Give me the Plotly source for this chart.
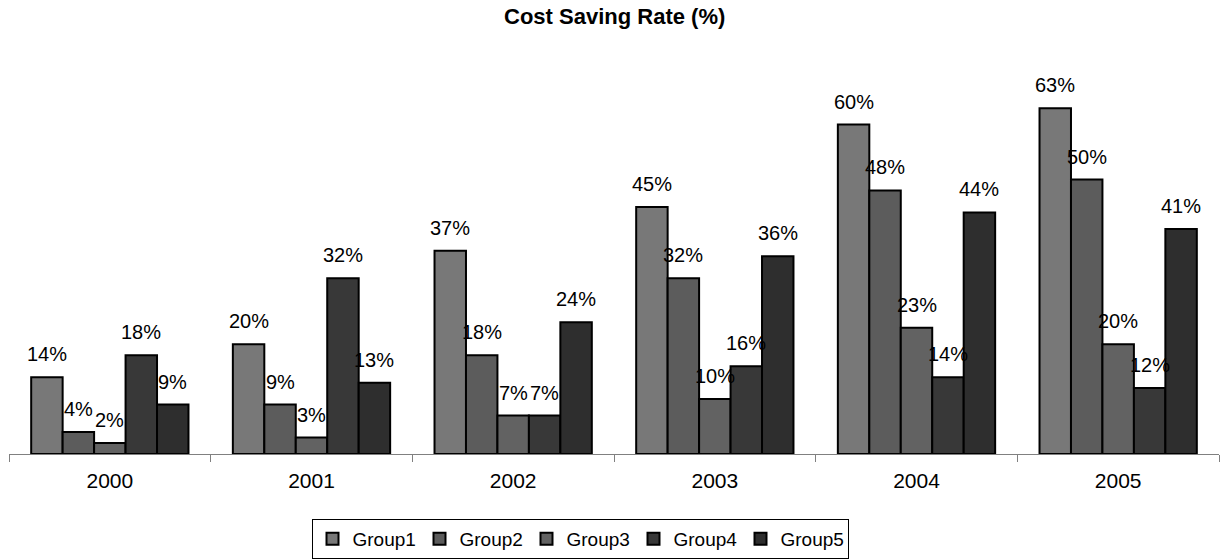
import plotly.graph_objects as go

# Cost saving rate per year for each group (percent)
years = ["2000", "2001", "2002", "2003", "2004", "2005"]
group_names = ["Group1", "Group2", "Group3", "Group4", "Group5"]
group1 = [14, 20, 37, 45, 60, 63]
group2 = [4, 9, 18, 32, 48, 50]
group3 = [2, 3, 7, 10, 23, 20]
group4 = [18, 32, 7, 16, 14, 12]
group5 = [9, 13, 24, 36, 44, 41]
series = [group1, group2, group3, group4, group5]

colors = ["#787878", "#5c5c5c", "#626262", "#383838", "#2e2e2e"]

FONT = "Liberation Sans, Arial, sans-serif"
BARGAP = 0.22
n_groups = len(series)
bar_w = (1 - BARGAP) / n_groups

fig = go.Figure()
annotations = []
for k, (name, vals, col) in enumerate(zip(group_names, series, colors)):
    fig.add_trace(go.Bar(
        name=name,
        x=years,
        y=vals,
        marker=dict(color=col, line=dict(color="#000000", width=2)),
        hoverinfo="x+y+name",
    ))
    # value labels sit a little above each bar
    offset = (k - (n_groups - 1) / 2) * bar_w
    for i, v in enumerate(vals):
        annotations.append(dict(
            x=i + offset, y=v, xref="x", yref="y",
            text=f"{v}%", showarrow=False,
            xanchor="center", yanchor="bottom", yshift=10,
            font=dict(family=FONT, size=20, color="#000000"),
        ))

fig.update_layout(
    width=1222, height=560,
    margin=dict(l=9, r=3, t=60, b=106),
    paper_bgcolor="#ffffff", plot_bgcolor="#ffffff",
    barmode="group", bargap=BARGAP, bargroupgap=0,
    title=dict(
        text="<b>Cost Saving Rate (%)</b>",
        x=0.503, xanchor="center", xref="container",
        y=1 - 16 / 560, yanchor="middle", yref="container",
        font=dict(family=FONT, size=22, color="#000000"),
    ),
    font=dict(family=FONT, size=20, color="#000000"),
    xaxis=dict(
        type="category",
        showline=True, linecolor="#808080", linewidth=1,
        ticks="outside", tickson="boundaries", ticklen=7,
        tickcolor="#808080", tickwidth=1,
        showgrid=False, zeroline=False,
        ticklabelstandoff=8,
        tickfont=dict(family=FONT, size=21, color="#000000"),
    ),
    yaxis=dict(
        range=[0, (454 - 60) / 5.49],
        visible=False, showgrid=False, zeroline=False,
    ),
    showlegend=True,
    legend=dict(
        orientation="h",
        x=580 / 1222, xanchor="center", xref="container",
        y=1 - 539 / 560, yanchor="middle", yref="container",
        bordercolor="#000000", borderwidth=1,
        font=dict(family=FONT, size=19, color="#000000"),
        itemwidth=30,
        entrywidth=62, entrywidthmode="pixels",
        traceorder="normal",
    ),
    annotations=annotations,
)

fig.write_html("out.html")
